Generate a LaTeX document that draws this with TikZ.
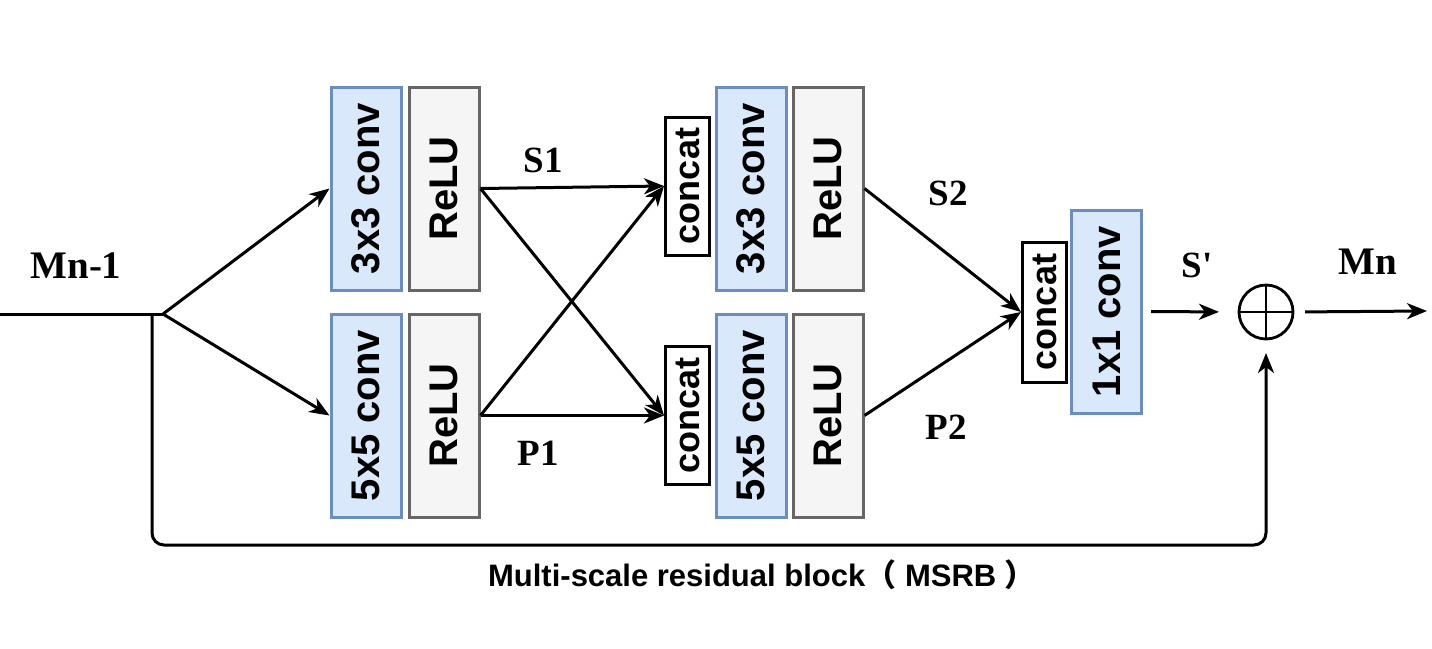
\documentclass[tikz,border=0pt]{standalone}
\usepackage{fontspec}
\setmainfont{Liberation Serif}
\setsansfont{Liberation Sans}
\newfontfamily\cjkfont{Noto Sans CJK SC}
\usetikzlibrary{arrows.meta,calc}
\definecolor{bluefill}{HTML}{DAE8FC}
\definecolor{blueline}{HTML}{6C8EBF}
\definecolor{grayfill}{HTML}{F5F5F5}
\definecolor{grayline}{HTML}{666666}
\begin{document}
\begin{tikzpicture}[x=1pt,y=-1pt,
 box/.style={draw, line width=3pt, minimum width=70pt, minimum height=203pt, inner sep=0pt,
   font=\sffamily\bfseries\fontsize{40}{40}\selectfont},
 convbox/.style={box, draw=blueline, fill=bluefill},
 relubox/.style={box, draw=grayline, fill=grayfill},
 catbox/.style={draw, line width=3pt, fill=white, minimum width=44pt, minimum height=138pt, inner sep=0pt,
   font=\sffamily\bfseries\fontsize{36}{36}\selectfont},
 arr/.style={line width=3pt, -{Stealth[length=20pt,width=16pt,inset=6pt]}},
 plain/.style={line width=3pt},
 lbl/.style={font=\rmfamily\bfseries\fontsize{37}{37}\selectfont, inner sep=0pt},
 biglbl/.style={font=\rmfamily\bfseries\fontsize{39}{39}\selectfont, inner sep=0pt}
]
\useasboundingbox (0,0) rectangle (1432,648);

% boxes
\node[convbox] (conv1) at (366,188.5) {\rotatebox{90}{3x3 conv}};
\node[relubox] (relu1) at (444,188.5) {\rotatebox{90}{ReLU}};
\node[convbox] (conv2) at (366,415.5) {\rotatebox{90}{5x5 conv}};
\node[relubox] (relu2) at (444,415.5) {\rotatebox{90}{ReLU}};

\node[catbox] (cat1) at (687.5,186) {\rotatebox{90}{concat}};
\node[catbox] (cat2) at (687.5,415.5) {\rotatebox{90}{concat}};

\node[convbox] (conv3) at (751,188.5) {\rotatebox{90}{3x3 conv}};
\node[relubox] (relu3) at (828,188.5) {\rotatebox{90}{ReLU}};
\node[convbox] (conv4) at (751,415.5) {\rotatebox{90}{5x5 conv}};
\node[relubox] (relu4) at (828,415.5) {\rotatebox{90}{ReLU}};

\node[catbox, minimum height=140pt] (cat3) at (1044.5,312) {\rotatebox{90}{concat}};
\node[convbox] (conv5) at (1106.5,311.5) {\rotatebox{90}{1x1 conv}};

\node[circle, draw, line width=2.8pt, minimum size=54pt, inner sep=0pt, outer sep=0pt] (plus) at (1266,312) {};
\draw[line width=2.8pt] (plus.north) -- (plus.south);
\draw[line width=2.8pt] (plus.west) -- (plus.east);

% coordinates
\coordinate (in) at (0,314);
\coordinate (j) at (163,314);
\coordinate (jb) at (152,314);
\coordinate (corner) at (1266,545);
\coordinate (out) at (1427,311);

% connectors
\draw[plain] (in) -- (j);
\draw[arr] (j) -- (conv1.west);
\draw[arr] (j) -- (conv2.west);
\draw[arr] (relu1.east) -- (cat1.west);
\draw[arr] (relu1.east) -- (cat2.west);
\draw[arr] (relu2.east) -- (cat1.west);
\draw[arr] (relu2.east) -- (cat2.west);
\draw[arr] (relu3.east) -- (cat3.west);
\draw[arr] (relu4.east) -- (cat3.west);
\draw[arr, shorten <=8pt, shorten >=20pt] (conv5.east) -- (plus.west);
\draw[arr, shorten <=12pt] (plus.east) -- (out);
\draw[arr, rounded corners=12pt, shorten >=14pt] (jb) |- (corner) -- (plus.south);

% labels
\node[biglbl] (lmn1) at (76,266) {Mn-1};
\node[lbl] (ls1) at (543,160) {S1};
\node[lbl] (lp1) at (538,453) {P1};
\node[lbl] (ls2) at (948,193) {S2};
\node[lbl] (lp2) at (946,427) {P2};
\node[lbl] (lsp) at (1197,265) {S\textquotesingle};
\node[biglbl] (lmn) at (1368,262) {Mn};
\node[inner sep=0pt, font=\sffamily\bfseries\fontsize{31}{31}\selectfont] (cap) at (762,575)
  {Multi-scale residual block{\cjkfont （} MSRB {\cjkfont ）}};
\end{tikzpicture}
\end{document}
